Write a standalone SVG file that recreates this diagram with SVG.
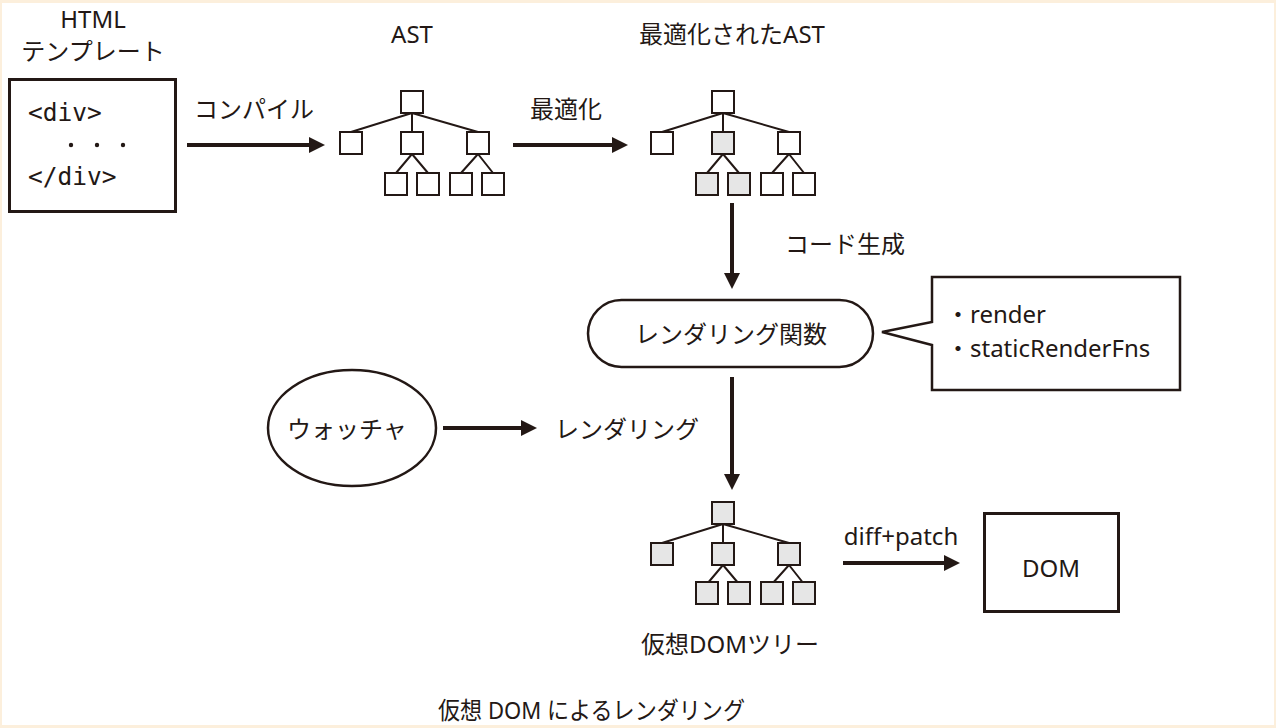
<svg xmlns="http://www.w3.org/2000/svg" width="1276" height="728" viewBox="0 0 1276 728">
<style>
  text { font-family: "Noto Sans", "Noto Sans CJK JP", sans-serif; fill: #231815; font-size: 24px; }
  .mono { font-family: "DejaVu Sans Mono", "Liberation Mono", monospace; font-size: 24.5px; }
  .box { fill: #ffffff; stroke: #231815; stroke-width: 2; }
  .grey { fill: #e6e6e6; stroke: #231815; stroke-width: 2; }
  .edge { stroke: #231815; stroke-width: 2; fill: none; }
  .arrow { stroke: #231815; stroke-width: 4; fill: none; }
  .frame { fill: #ffffff; stroke: #231815; stroke-width: 3; }
  .outline { fill: #ffffff; stroke: #231815; stroke-width: 2.5; }
</style>
<defs>
  <marker id="ah" viewBox="0 0 16 16" markerUnits="userSpaceOnUse" markerWidth="16" markerHeight="16" refX="4" refY="8" orient="auto">
    <path d="M0,0 L16,8 L0,16 z" fill="#231815"/>
  </marker>
</defs>
<rect x="0" y="0" width="1276" height="728" fill="#fcefdc"/>
<rect x="2" y="3" width="1272" height="722" fill="#ffffff"/>

<g id="html-template">
  <text x="93" y="28" text-anchor="middle">HTML</text>
  <text x="93" y="60" text-anchor="middle">テンプレート</text>
  <rect class="frame" x="9.5" y="79.5" width="166" height="132"/>
  <text class="mono" x="28" y="121">&lt;div&gt;</text>
  <circle cx="71" cy="145" r="2.2" fill="#231815"/>
  <circle cx="97" cy="145" r="2.2" fill="#231815"/>
  <circle cx="123" cy="145" r="2.2" fill="#231815"/>
  <text class="mono" x="28" y="185">&lt;/div&gt;</text>
</g>

<g id="ast">
  <text x="412" y="43" text-anchor="middle">AST</text>
  <path class="edge" d="M412,113 L351,132 M412,113 L412,132 M412,113 L478,132 M412,154 L396,173 M412,154 L428,173 M478,154 L461,173 M478,154 L493,173"/>
  <rect class="box" x="401" y="91" width="22" height="22"/>
  <rect class="box" x="340" y="132" width="22" height="22"/>
  <rect class="box" x="401" y="132" width="22" height="22"/>
  <rect class="box" x="467" y="132" width="22" height="22"/>
  <rect class="box" x="385" y="173" width="22" height="22"/>
  <rect class="box" x="417" y="173" width="22" height="22"/>
  <rect class="box" x="450" y="173" width="22" height="22"/>
  <rect class="box" x="482" y="173" width="22" height="22"/>
</g>

<g id="optimized-ast">
  <text x="732" y="43" text-anchor="middle">最適化されたAST</text>
  <path class="edge" d="M723,113 L662,132 M723,113 L723,132 M723,113 L789,132 M723,154 L707,173 M723,154 L739,173 M789,154 L772,173 M789,154 L804,173"/>
  <rect class="box" x="712" y="91" width="22" height="22"/>
  <rect class="box" x="651" y="132" width="22" height="22"/>
  <rect class="grey" x="712" y="132" width="22" height="22"/>
  <rect class="box" x="778" y="132" width="22" height="22"/>
  <rect class="grey" x="696" y="173" width="22" height="22"/>
  <rect class="grey" x="728" y="173" width="22" height="22"/>
  <rect class="box" x="761" y="173" width="22" height="22"/>
  <rect class="box" x="793" y="173" width="22" height="22"/>
</g>

<g id="render-function">
  <rect class="outline" x="588" y="300" width="285" height="67" rx="33.5" ry="33.5"/>
  <text x="731" y="343" text-anchor="middle">レンダリング関数</text>
</g>

<g id="callout">
  <path class="outline" d="M932,322 L932,277 L1180,277 L1180,390 L932,390 L932,345 L882,332 Z"/>
  <text x="946" y="323" font-size="25">・render</text>
  <text x="946" y="357" font-size="25">・staticRenderFns</text>
</g>

<g id="watcher">
  <ellipse class="outline" cx="352" cy="428" rx="84" ry="58"/>
  <text x="347" y="438" text-anchor="middle">ウォッチャ</text>
</g>

<g id="virtual-dom-tree">
  <path class="edge" d="M723,524 L662,543 M723,524 L723,543 M723,524 L789,543 M723,565 L707,584 M723,565 L739,584 M789,565 L772,584 M789,565 L804,584"/>
  <rect class="grey" x="712" y="502" width="22" height="22"/>
  <rect class="grey" x="651" y="543" width="22" height="22"/>
  <rect class="grey" x="712" y="543" width="22" height="22"/>
  <rect class="grey" x="778" y="543" width="22" height="22"/>
  <rect class="grey" x="696" y="582" width="22" height="22"/>
  <rect class="grey" x="728" y="582" width="22" height="22"/>
  <rect class="grey" x="761" y="582" width="22" height="22"/>
  <rect class="grey" x="793" y="582" width="22" height="22"/>
  <text x="730" y="653" text-anchor="middle">仮想DOMツリー</text>
</g>

<g id="dom">
  <rect class="frame" x="984.5" y="513.5" width="134" height="98"/>
  <text x="1051" y="577" text-anchor="middle" font-size="25">DOM</text>
</g>

<g id="connectors">
  <line class="arrow" x1="187" y1="145" x2="313" y2="145" marker-end="url(#ah)"/>
  <text x="254" y="118" text-anchor="middle">コンパイル</text>
  <line class="arrow" x1="513" y1="145" x2="616" y2="145" marker-end="url(#ah)"/>
  <text x="566" y="118" text-anchor="middle">最適化</text>
  <line class="arrow" x1="732" y1="203" x2="732" y2="277" marker-end="url(#ah)"/>
  <text x="785" y="253">コード生成</text>
  <line class="arrow" x1="732" y1="377" x2="732" y2="478" marker-end="url(#ah)"/>
  <line class="arrow" x1="443" y1="428" x2="525" y2="428" marker-end="url(#ah)"/>
  <text x="555" y="438">レンダリング</text>
  <line class="arrow" x1="843" y1="563" x2="948" y2="563" marker-end="url(#ah)"/>
  <text x="901" y="545" text-anchor="middle">diff+patch</text>
</g>

<text x="438" y="719" font-size="22" textLength="307" lengthAdjust="spacingAndGlyphs">仮想 DOM によるレンダリング</text>
</svg>
